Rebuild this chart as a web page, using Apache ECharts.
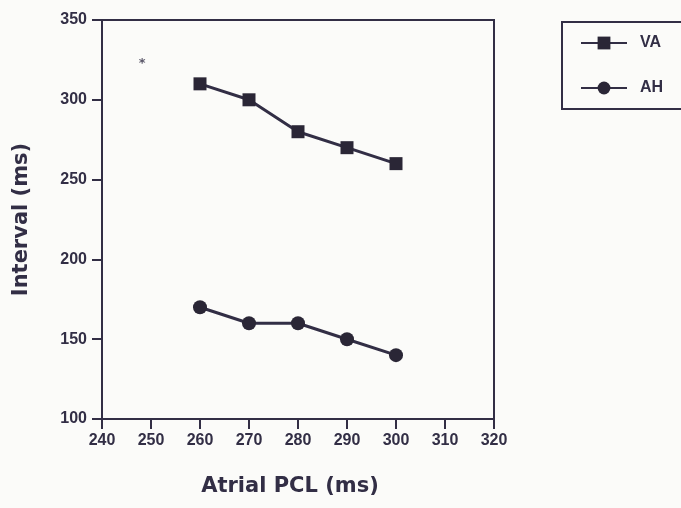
<!DOCTYPE html>
<html>
<head>
<meta charset="utf-8">
<script src="https://cdn.jsdelivr.net/npm/echarts@6/dist/echarts.min.js"></script>
<style>
html,body{margin:0;padding:0;background:#fbfbf9;}
#c{width:681px;height:508px;}
</style>
</head>
<body>
<div id="c"></div>
<script>
const pcl = [260, 270, 280, 290, 300];
const vaValues = [310, 300, 280, 270, 260];
const ahValues = [170, 160, 160, 150, 140];
const xTicks = [240, 250, 260, 270, 280, 290, 300, 310, 320];
const yTicks = [100, 150, 200, 250, 300, 350];
const asteriskPoint = [248, 324];

const ink = '#322e45';
const font = 'DejaVu Sans';
const tickFont = 'Liberation Sans';

const chart = echarts.init(document.getElementById('c'), null, {renderer: 'canvas'});
chart.setOption({
  backgroundColor: '#fbfbf9',
  animation: false,
  grid: {left: 102, right: 187, top: 20, bottom: 89, show: true, borderColor: ink, borderWidth: 2, backgroundColor: 'transparent'},
  legend: {
    data: ['VA', 'AH'],
    orient: 'vertical',
    left: 562, top: 22,
    padding: [13, 40, 13, 18],
    itemWidth: 46, itemHeight: 16, itemGap: 29,
    borderColor: ink, borderWidth: 2,
    textStyle: {fontFamily: tickFont, fontWeight: 'bold', fontSize: 16, color: ink, padding: [0, 0, 0, 8]}
  },
  xAxis: {
    type: 'value', min: xTicks[0], max: xTicks[xTicks.length - 1], interval: 10,
    name: 'Atrial PCL (ms)', nameLocation: 'middle', nameGap: 57,
    nameTextStyle: {fontFamily: font, fontWeight: 'bold', fontSize: 21, color: ink, padding: [0, 16, 0, 0]},
    axisLine: {lineStyle: {color: ink, width: 2}},
    axisTick: {length: 10, lineStyle: {color: ink, width: 2}},
    axisLabel: {fontFamily: tickFont, fontWeight: 'bold', fontSize: 16, color: ink, margin: 14,
      formatter: v => xTicks.includes(v) ? String(v) : ''},
    splitLine: {show: false}
  },
  yAxis: {
    type: 'value', min: yTicks[0], max: yTicks[yTicks.length - 1], interval: 50,
    name: 'Interval (ms)', nameLocation: 'middle', nameGap: 70,
    nameTextStyle: {fontFamily: font, fontWeight: 'bold', fontSize: 21, color: ink},
    axisLine: {lineStyle: {color: ink, width: 2}},
    axisTick: {length: 10, lineStyle: {color: ink, width: 2}},
    axisLabel: {fontFamily: tickFont, fontWeight: 'bold', fontSize: 16, color: ink, margin: 15,
      formatter: v => yTicks.includes(v) ? String(v) : ''},
    splitLine: {show: false}
  },
  series: [
    {
      name: 'VA', type: 'line',
      data: pcl.map((x, i) => [x, vaValues[i]]),
      symbol: 'rect', symbolSize: 13,
      lineStyle: {color: ink, width: 3},
      itemStyle: {color: '#2a2636'}
    },
    {
      name: 'AH', type: 'line',
      data: pcl.map((x, i) => [x, ahValues[i]]),
      symbol: 'circle', symbolSize: 14,
      lineStyle: {color: ink, width: 3},
      itemStyle: {color: '#2a2636'}
    },
    {
      name: 'note', type: 'scatter',
      data: [asteriskPoint],
      symbolSize: 0,
      label: {show: true, formatter: '*', position: 'inside', fontFamily: font, fontWeight: 'bold', fontSize: 13, color: ink, offset: [1, 2]},
      silent: true
    }
  ]
});
</script>
</body>
</html>
